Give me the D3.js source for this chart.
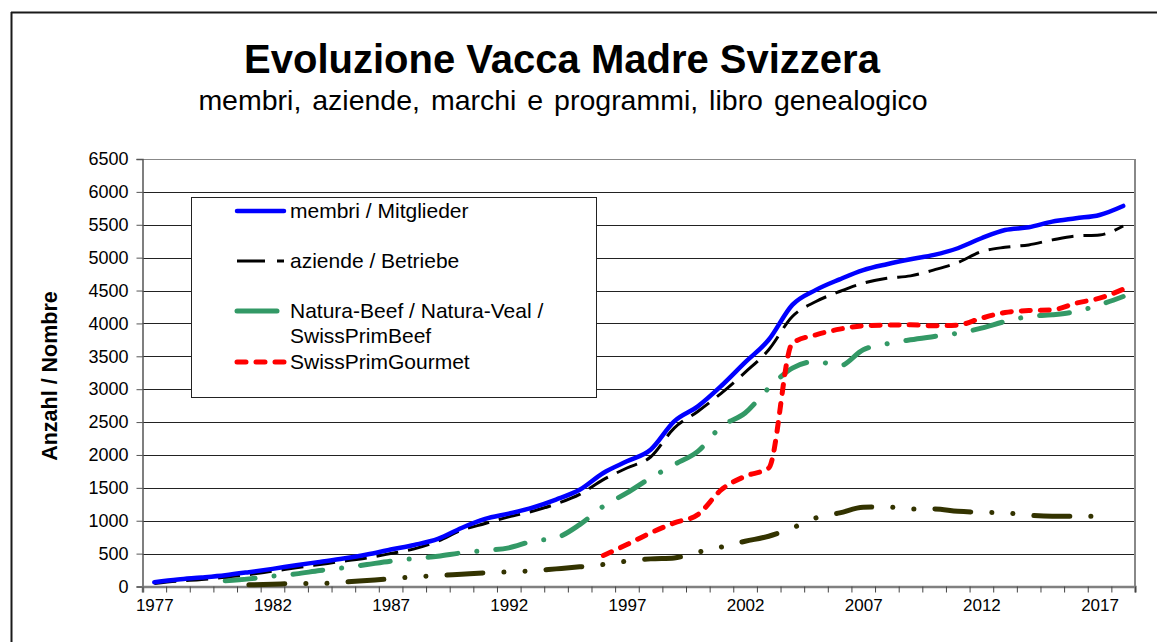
<!DOCTYPE html>
<html>
<head>
<meta charset="utf-8">
<script src="https://cdn.jsdelivr.net/npm/d3@7"></script>
<style>
  html, body { margin: 0; padding: 0; background: #fff; }
  svg { display: block; font-family: "Liberation Sans", Arial, sans-serif; }
</style>
</head>
<body>
<svg id="chart" width="1157" height="642"></svg>
<script>
'use strict'

// years on the category axis
const years = [1977,1978,1979,1980,1981,1982,1983,1984,1985,1986,
               1987,1988,1989,1990,1991,1992,1993,1994,1995,1996,
               1997,1998,1999,2000,2001,2002,2003,2004,2005,2006,
               2007,2008,2009,2010,2011,2012,2013,2014,2015,2016,
               2017,2018];

const yearLabels = [1977,1982,1987,1992,1997,2002,2007,2012,2017];
const yTicks = [0,500,1000,1500,2000,2500,3000,3500,4000,4500,5000,5500,6000,6500];

// series values, one per year (null = no value)
const membri = [65,106,137,172,218,268,324,374,425,486,
                562,632,723,890,1027,1108,1199,1321,1470,1726,
                1903,2080,2511,2739,3052,3407,3751,4282,4510,4670,
                4810,4900,4976,5042,5143,5295,5421,5462,5548,5599,
                5649,5786];

const aziende = [46,81,106,142,182,233,283,334,385,435,
                 501,572,688,855,957,1058,1144,1255,1400,1625,
                 1802,1969,2409,2662,2941,3255,3599,4105,4333,4485,
                 4611,4687,4723,4814,4925,5092,5158,5194,5270,5330,
                 5345,5482];

const natura = [null,null,null,86,116,157,192,243,283,334,
                385,425,460,511,547,587,688,739,941,1220,
                1422,1650,1853,2055,2435,2637,3017,3321,3422,3356,
                3600,3690,3751,3802,3852,3928,4029,4105,4131,4181,
                4282,4409];

const gourmet = [null,null,null,null,null,null,null,null,null,null,
                 null,null,null,null,null,null,null,null,null,471,
                 638,815,967,1093,1473,1676,1802,3700,3827,3913,
                 3964,3974,3979,3964,3974,4080,4166,4196,4206,4308,
                 4384,4520];

const herdbook = [null,null,null,null,25,35,46,46,66,91,
                  116,147,167,187,207,223,238,268,299,334,
                  385,420,435,521,600,688,764,891,1043,1119,
                  1205,1210,1180,1180,1144,1129,1119,1083,1068,1068,
                  1068,null];

const series = [
  {name: "herdbook", values: herdbook, color: "#333300", width: 5, dash: "36,21,0.1,21,0.1,21", cap: "round"},
  {name: "natura",   values: natura,   color: "#339966", width: 5, dash: "30,19,0.1,19", cap: "round"},
  {name: "gourmet",  values: gourmet,  color: "#ff0000", width: 5, dash: "9,10", cap: "round"},
  {name: "aziende",  values: aziende,  color: "#000000", width: 3, dash: "22,10", cap: "butt"},
  {name: "membri",   values: membri,   color: "#0000ff", width: 4.5, dash: null, cap: "round"}
];

const legendItems = [
  {lines: ["membri / Mitglieder"], color: "#0000ff", width: 4.5, dash: null, cap: "round"},
  {lines: ["aziende / Betriebe"], color: "#000000", width: 3, dash: "28,12", cap: "butt"},
  {lines: ["Natura-Beef / Natura-Veal /", "SwissPrimBeef"], color: "#339966", width: 5, dash: "40,19", cap: "round"},
  {lines: ["SwissPrimGourmet"], color: "#ff0000", width: 5, dash: "9,10", cap: "round"}
];

const svg = d3.select("#chart");

// outer frame (top and left only)
svg.append("line").attr("x1", 11).attr("y1", 12.5).attr("x2", 1157).attr("y2", 12.5)
  .attr("stroke", "#1a1a1a").attr("stroke-width", 2);
svg.append("line").attr("x1", 11.5).attr("y1", 12).attr("x2", 11.5).attr("y2", 642)
  .attr("stroke", "#1a1a1a").attr("stroke-width", 2);

// titles
svg.append("text").attr("x", 562).attr("y", 73).attr("text-anchor", "middle")
  .attr("font-size", 40).attr("font-weight", "bold")
  .text("Evoluzione Vacca Madre Svizzera");
svg.append("text").attr("x", 563).attr("y", 110).attr("text-anchor", "middle")
  .attr("font-size", 28.5).attr("word-spacing", 3)
  .text("membri, aziende, marchi e programmi, libro genealogico");

// plot area
let plotLeft = 142.5, plotRight = 1135, plotTop = 159, plotBottom = 586.5;

let x = d3.scaleLinear().domain([1976.5, 2018.5]).range([plotLeft, plotRight]);
let y = d3.scaleLinear().domain([0, 6500]).range([plotBottom, plotTop]);

// horizontal gridlines
svg.append("g").selectAll("line")
  .data(yTicks.filter(d => d > 0))
  .enter().append("line")
    .attr("x1", plotLeft).attr("x2", plotRight)
    .attr("y1", d => Math.round(y(d)) + 0.5).attr("y2", d => Math.round(y(d)) + 0.5)
    .attr("stroke", d => d == 6500 ? "#888" : "#222").attr("stroke-width", 1);

// right border of plot
svg.append("line").attr("x1", plotRight).attr("x2", plotRight).attr("y1", plotTop).attr("y2", plotBottom)
  .attr("stroke", "#888").attr("stroke-width", 2);

// y axis
let yAxis = svg.append("g")
  .attr("transform", `translate(${plotLeft},0)`)
  .call(d3.axisLeft(y).tickValues(yTicks).tickSize(6).tickPadding(8).tickFormat(d3.format("d")));
yAxis.select(".domain").attr("stroke", "#555").attr("stroke-width", 1.5);
yAxis.selectAll(".tick line").attr("stroke", "#555");
yAxis.selectAll(".tick text").attr("font-size", 18).attr("fill", "#000")
  .attr("font-family", "'Liberation Sans', Arial, sans-serif");

// x axis: tick marks on category boundaries, labels every 5 years
let boundaries = years.map(d => d - 0.5).concat([2018.5]);
let xTicks = svg.append("g")
  .attr("transform", `translate(0,${plotBottom})`)
  .call(d3.axisBottom(x).tickValues(boundaries).tickSize(6).tickFormat(""));
xTicks.select(".domain").attr("stroke", "#808080").attr("stroke-width", 2.5);
xTicks.selectAll(".tick line").attr("stroke", "#444");

let xLabels = svg.append("g")
  .attr("transform", `translate(0,${plotBottom})`)
  .call(d3.axisBottom(x).tickValues(yearLabels).tickSize(0).tickPadding(12).tickFormat(d3.format("d")));
xLabels.select(".domain").remove();
xLabels.selectAll(".tick text").attr("font-size", 17).attr("fill", "#000")
  .attr("font-family", "'Liberation Sans', Arial, sans-serif");

// y axis title
svg.append("text")
  .attr("transform", "translate(57,376) rotate(-90)")
  .attr("text-anchor", "middle").attr("font-size", 21.5).attr("font-weight", "bold")
  .text("Anzahl / Nombre");

// series lines
let line = d3.line()
  .defined(d => d.v != null)
  .x(d => x(d.year))
  .y(d => y(d.v))
  .curve(d3.curveMonotoneX);

svg.append("g").selectAll("path")
  .data(series)
  .enter().append("path")
    .attr("d", s => line(years.map((yr, i) => ({year: yr, v: s.values[i]}))))
    .attr("fill", "none")
    .attr("stroke", s => s.color)
    .attr("stroke-width", s => s.width)
    .attr("stroke-dasharray", s => s.dash)
    .attr("stroke-linecap", s => s.cap)
    .attr("stroke-linejoin", "round");

// legend
let legend = svg.append("g");
legend.append("rect").attr("x", 191.5).attr("y", 197.5).attr("width", 405).attr("height", 200)
  .attr("fill", "#fff").attr("stroke", "#222").attr("stroke-width", 1);

let rowY = [211, 261, 311, 362];
legendItems.forEach((item, i) => {
  legend.append("line")
    .attr("x1", 237).attr("x2", 284)
    .attr("y1", rowY[i]).attr("y2", rowY[i])
    .attr("stroke", item.color).attr("stroke-width", item.width)
    .attr("stroke-dasharray", item.dash)
    .attr("stroke-linecap", item.cap);
  item.lines.forEach((t, j) => {
    legend.append("text")
      .attr("x", 290).attr("y", rowY[i] + 7 + j * 25)
      .attr("font-size", 21)
      .text(t);
  });
});
</script>
</body>
</html>
